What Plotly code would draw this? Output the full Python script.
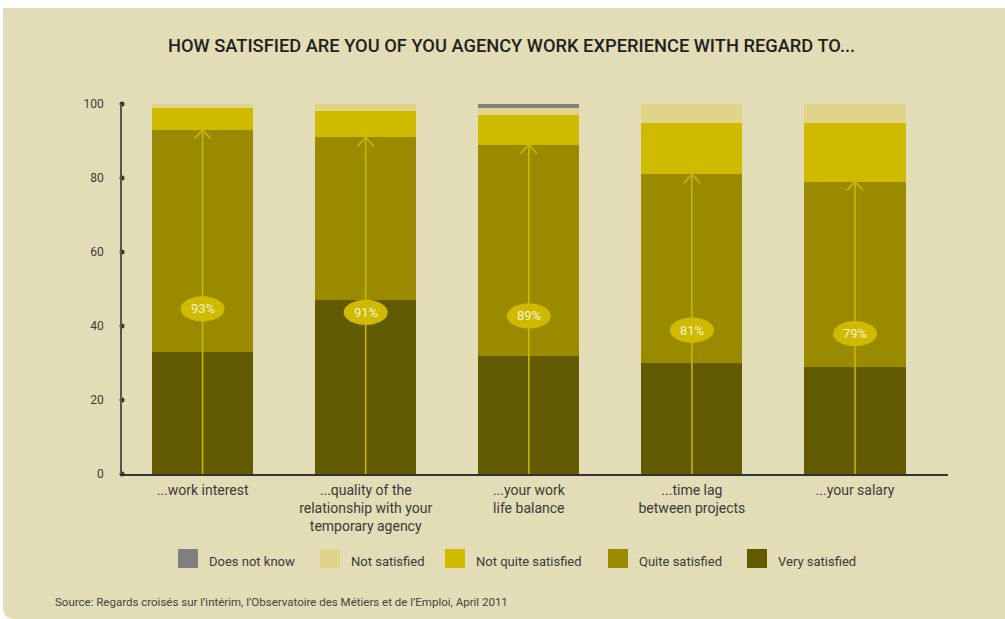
import plotly.graph_objects as go

categories = ["...work interest",
              "...quality of the<br>relationship with your<br>temporary agency",
              "...your work<br>life balance",
              "...time lag<br>between projects",
              "...your salary"]
very_satisfied = [33, 47, 32, 30, 29]
quite_satisfied = [60, 44, 57, 51, 50]
not_quite_satisfied = [6, 7, 8, 14, 16]
not_satisfied = [1, 2, 2, 5, 5]
does_not_know = [0, 0, 1, 0, 0]
satisfied_total = [93, 91, 89, 81, 79]
y_ticks = [0, 20, 40, 60, 80, 100]

BG = "#E2DDB6"
YELLOW = "#CFBA00"
FONT = "Roboto"
TEXT = "#3a3a3a"

# plot area in pixels, used to place background panel and legend
L, R, T, B = 122, 948, 104, 474
X_MIN, X_MAX = -0.494, 4.57


def px(x):
    return (x - L) / (R - L)


def py(y):
    return (B - y) / (B - T)


x = list(range(len(categories)))
fig = go.Figure()

series = [
    ("Very satisfied", very_satisfied, "#625A00"),
    ("Quite satisfied", quite_satisfied, "#998A00"),
    ("Not quite satisfied", not_quite_satisfied, YELLOW),
    ("Not satisfied", not_satisfied, "#E0D48A"),
    ("Does not know", does_not_know, "#808080"),
]
for name, vals, color in series:
    fig.add_trace(go.Bar(x=x, y=vals, name=name, marker_color=color,
                         marker_line_width=0, width=0.62, hoverinfo="y+name"))

# tick dots on the y axis
fig.add_trace(go.Scatter(x=[X_MIN] * len(y_ticks), y=y_ticks, mode="markers",
                         marker=dict(size=5, color="#333333"), cliponaxis=False,
                         showlegend=False, hoverinfo="skip"))

# arrows from 0 up to the satisfied total
ax_, ay_ = [], []
for i, tot in enumerate(satisfied_total):
    ax_ += [i, i, None, i - 0.05, i, i + 0.05, None]
    ay_ += [0, tot, None, tot - 2.4, tot, tot - 2.4, None]
fig.add_trace(go.Scatter(x=ax_, y=ay_, mode="lines",
                         line=dict(color=YELLOW, width=1.5),
                         showlegend=False, hoverinfo="skip"))

# ellipse labels
for i, tot in enumerate(satisfied_total):
    cy = tot * 0.48
    fig.add_shape(type="circle", xref="x", yref="y",
                  x0=i - 0.135, x1=i + 0.135, y0=cy - 3.4, y1=cy + 3.4,
                  fillcolor=YELLOW, line_width=0, layer="above")
    fig.add_annotation(x=i, y=cy, text=f"{tot}%", showarrow=False,
                       font=dict(family=FONT, size=13, color="#F7F3D6"))

# background panel with rounded bottom-left corner
x0, x1, y0, y1, r = 3, 1005, 8, 619, 12
path = (f"M {px(x0)},{py(y0)} L {px(x1)},{py(y0)} L {px(x1)},{py(y1)} "
        f"L {px(x0 + r)},{py(y1)} Q {px(x0)},{py(y1)} {px(x0)},{py(y1 - r)} Z")
fig.add_shape(type="path", path=path, xref="paper", yref="paper",
              fillcolor=BG, line_width=0, layer="below")

# legend drawn by hand to get the big squares and spacing
legend_x = [178, 320, 445, 608, 747]
for (name, vals, color), lx in zip(reversed(series), legend_x):
    fig.add_shape(type="rect", xref="paper", yref="paper",
                  x0=px(lx), x1=px(lx + 20), y0=py(549), y1=py(568),
                  fillcolor=color, line_width=0)
    fig.add_annotation(x=px(lx + 29), y=py(561), xref="paper", yref="paper",
                       text=name, showarrow=False, xanchor="left",
                       yanchor="middle", font=dict(size=13, color=TEXT))

fig.add_annotation(x=px(511), y=py(45), xref="paper", yref="paper",
                   text="HOW SATISFIED ARE YOU OF YOU AGENCY WORK EXPERIENCE WITH REGARD TO...",
                   showarrow=False, xanchor="center", yanchor="middle",
                   font=dict(family=FONT, size=18.3, color="#231F20", weight=500))
fig.add_annotation(x=px(53), y=py(602), xref="paper", yref="paper",
                   text="Source: Regards croisés sur l’intérim, l’Observatoire des Métiers et de l’Emploi, April 2011",
                   showarrow=False, xanchor="left", yanchor="middle",
                   font=dict(family=FONT, size=11.5, color="#444444"))

fig.update_layout(
    barmode="stack",
    width=1005, height=619,
    margin=dict(l=L, r=1005 - R, t=T, b=619 - B, autoexpand=False),
    paper_bgcolor="white",
    plot_bgcolor="rgba(0,0,0,0)",
    font=dict(family=FONT, size=13, color=TEXT),
    showlegend=False,
    xaxis=dict(range=[X_MIN, X_MAX], tickvals=x, ticktext=categories,
               showgrid=False, zeroline=False, showline=True,
               linecolor="#333333", linewidth=1.5, ticks="",
               ticklabelstandoff=2, tickfont=dict(size=14, color=TEXT)),
    yaxis=dict(range=[0, 100], tickvals=y_ticks, showgrid=False,
               zeroline=False, showline=True, linecolor="#555555",
               linewidth=1.5, ticks="", ticklabelstandoff=14,
               tickfont=dict(size=12, color=TEXT)),
)

# drop the default page margin so the figure sits at the window origin
fig.write_html("out.html", config={"displayModeBar": False},
               post_script="document.body.style.margin='0';")
